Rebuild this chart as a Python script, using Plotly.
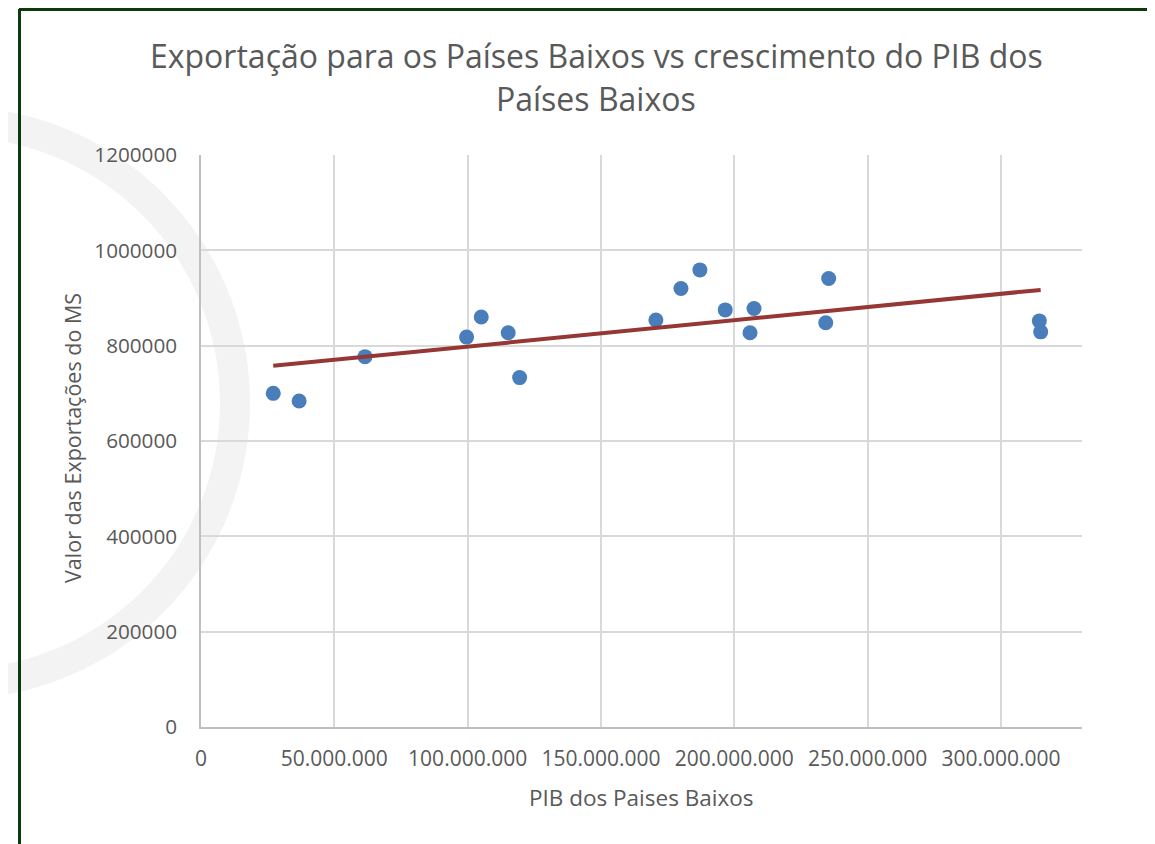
import numpy as np
import plotly.graph_objects as go

# Data
pib = [27.1e6, 36.8e6, 61.5e6, 99.6e6, 105.1e6, 115.2e6, 119.5e6, 170.6e6, 180.0e6,
       187.1e6, 196.6e6, 207.4e6, 205.9e6, 235.4e6, 234.3e6, 314.4e6, 314.9e6]
exportacoes = [700000, 684000, 777000, 818000, 860000, 827000, 733000, 854000, 920000,
               959000, 875000, 878000, 827000, 941000, 848000, 852000, 829000]

x_ticks = [0, 50e6, 100e6, 150e6, 200e6, 250e6, 300e6]
x_tick_labels = ["0", "50.000.000", "100.000.000", "150.000.000", "200.000.000",
                 "250.000.000", "300.000.000"]
y_ticks = [0, 200000, 400000, 600000, 800000, 1000000, 1200000]
y_tick_labels = ["0", "200000", "400000", "600000", "800000", "1000000", "1200000"]

title_line1 = "Exportação para os Países Baixos vs crescimento do PIB dos"
title_line2 = "Países Baixos"
x_title = "PIB dos Paises Baixos"
y_title = "Valor das Exportações do MS"

# Linear trendline (as Excel computes it)
slope, intercept = np.polyfit(pib, exportacoes, 1)
trend_x = [min(pib), max(pib)]
trend_y = [slope * v + intercept for v in trend_x]

OFF = 8  # page body margin of the browser
W, H = 1155 - OFF, 844 - OFF
L, R, T, B = 201 - OFF, 1082 - OFF, 155 - OFF, 727 - OFF

def px(xp):
    return (xp - OFF - L) / (R - L)

def py(yp):
    return (B - (yp - OFF)) / (B - T)

FONT = "Open Sans"
GREY = "#595959"

fig = go.Figure()
fig.add_trace(go.Scatter(
    x=pib, y=exportacoes, mode="markers",
    marker=dict(size=15, color="#4a7ebb", line=dict(width=0)),
    showlegend=False,
))
fig.add_trace(go.Scatter(
    x=trend_x, y=trend_y, mode="lines",
    line=dict(color="#953735", width=4),
    showlegend=False,
))

shapes = [
    # faint watermark arc
    dict(type="circle", xref="paper", yref="paper", layer="below",
         x0=px(-326), x1=px(235), y0=py(684), y1=py(122),
         line=dict(color="#f3f3f3", width=30)),
    # dark green frame (top and left)
    dict(type="line", xref="paper", yref="paper",
         x0=px(19), x1=px(1170), y0=py(9.5), y1=py(9.5),
         line=dict(color="#0b3a0b", width=3)),
    dict(type="line", xref="paper", yref="paper",
         x0=px(19.5), x1=px(19.5), y0=py(9), y1=py(860),
         line=dict(color="#0b3a0b", width=3)),
]

annotations = [
    dict(text=title_line1, xref="paper", yref="paper", x=px(596), y=py(55),
         showarrow=False, xanchor="center", yanchor="middle",
         font=dict(family=FONT, size=32, color=GREY)),
    dict(text=title_line2, xref="paper", yref="paper", x=px(596), y=py(98),
         showarrow=False, xanchor="center", yanchor="middle",
         font=dict(family=FONT, size=32, color=GREY)),
    dict(text=x_title, xref="paper", yref="paper", x=px(641), y=py(797),
         showarrow=False, xanchor="center", yanchor="middle",
         font=dict(family=FONT, size=22.5, color=GREY)),
    dict(text=y_title, xref="paper", yref="paper", x=px(72), y=py(438),
         showarrow=False, xanchor="center", yanchor="middle", textangle=-90,
         font=dict(family=FONT, size=21.5, color=GREY)),
]

fig.update_layout(
    width=W, height=H,
    margin=dict(l=L, r=W - R, t=T, b=H - B),
    paper_bgcolor="white",
    plot_bgcolor="rgba(0,0,0,0)",
    shapes=shapes,
    annotations=annotations,
    font=dict(family=FONT, color=GREY),
)
fig.update_xaxes(
    range=[0, 330.4e6], tickvals=x_ticks, ticktext=x_tick_labels,
    showgrid=True, gridcolor="#d9d9d9", gridwidth=1.5,
    showline=True, linecolor="#bfbfbf", linewidth=1.5,
    zeroline=False, ticks="", ticklabelstandoff=12,
    tickfont=dict(family=FONT, size=21, color=GREY),
)
fig.update_yaxes(
    range=[0, 1200000], tickvals=y_ticks, ticktext=y_tick_labels,
    showgrid=True, gridcolor="#d9d9d9", gridwidth=1.5,
    showline=True, linecolor="#bfbfbf", linewidth=1.5,
    zeroline=False, ticks="", ticklabelstandoff=18,
    tickfont=dict(family=FONT, size=20.7, color=GREY),
)

fig.write_html("out.html")
